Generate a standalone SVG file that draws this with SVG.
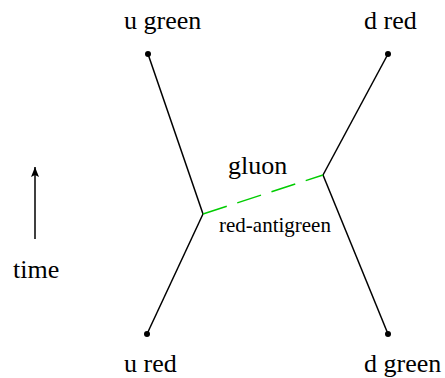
<svg xmlns="http://www.w3.org/2000/svg" width="445" height="378" viewBox="0 0 445 378">
<style>
.lbl{font-family:'Liberation Serif','DejaVu Serif',serif;font-size:26px;fill:#000}
.small{font-family:'Liberation Serif','DejaVu Serif',serif;font-size:21px;fill:#000}
.q{stroke:#000;stroke-width:1.5;fill:none}
.dot{fill:#000}
</style>
<defs>
<marker id="ah" markerWidth="10" markerHeight="8" refX="10" refY="4" orient="auto" markerUnits="userSpaceOnUse" viewBox="0 0 10 8">
<path d="M0,0 L10,4 L0,8 L2,4 Z" fill="#000"/>
</marker>
</defs>
<rect width="445" height="378" fill="#fff"/>
<g id="connectors">
<line class="q" x1="148" y1="54" x2="203" y2="214"/>
<line class="q" x1="147" y1="334" x2="203" y2="214"/>
<line class="q" x1="388" y1="54" x2="323" y2="175"/>
<line class="q" x1="388" y1="334" x2="323" y2="175"/>
<line x1="203" y1="214" x2="323" y2="175" stroke="#00cc00" stroke-width="1.5" stroke-dasharray="25 11"/>
<line x1="35" y1="239" x2="35" y2="167" stroke="#000" stroke-width="1.5" marker-end="url(#ah)"/>
</g>
<g id="u-green"><circle class="dot" cx="148" cy="54" r="3"/><text class="lbl" x="124" y="29">u green</text></g>
<g id="d-red"><circle class="dot" cx="388" cy="54" r="3"/><text class="lbl" x="364" y="29">d red</text></g>
<g id="u-red"><circle class="dot" cx="147" cy="334" r="3"/><text class="lbl" x="124" y="372">u red</text></g>
<g id="d-green"><circle class="dot" cx="388" cy="334" r="3"/><text class="lbl" x="364" y="372">d green</text></g>
<g id="gluon"><text class="lbl" x="228" y="174">gluon</text><text class="small" x="219" y="232">red-antigreen</text></g>
<g id="time"><text class="lbl" x="13" y="278">time</text></g>
</svg>
